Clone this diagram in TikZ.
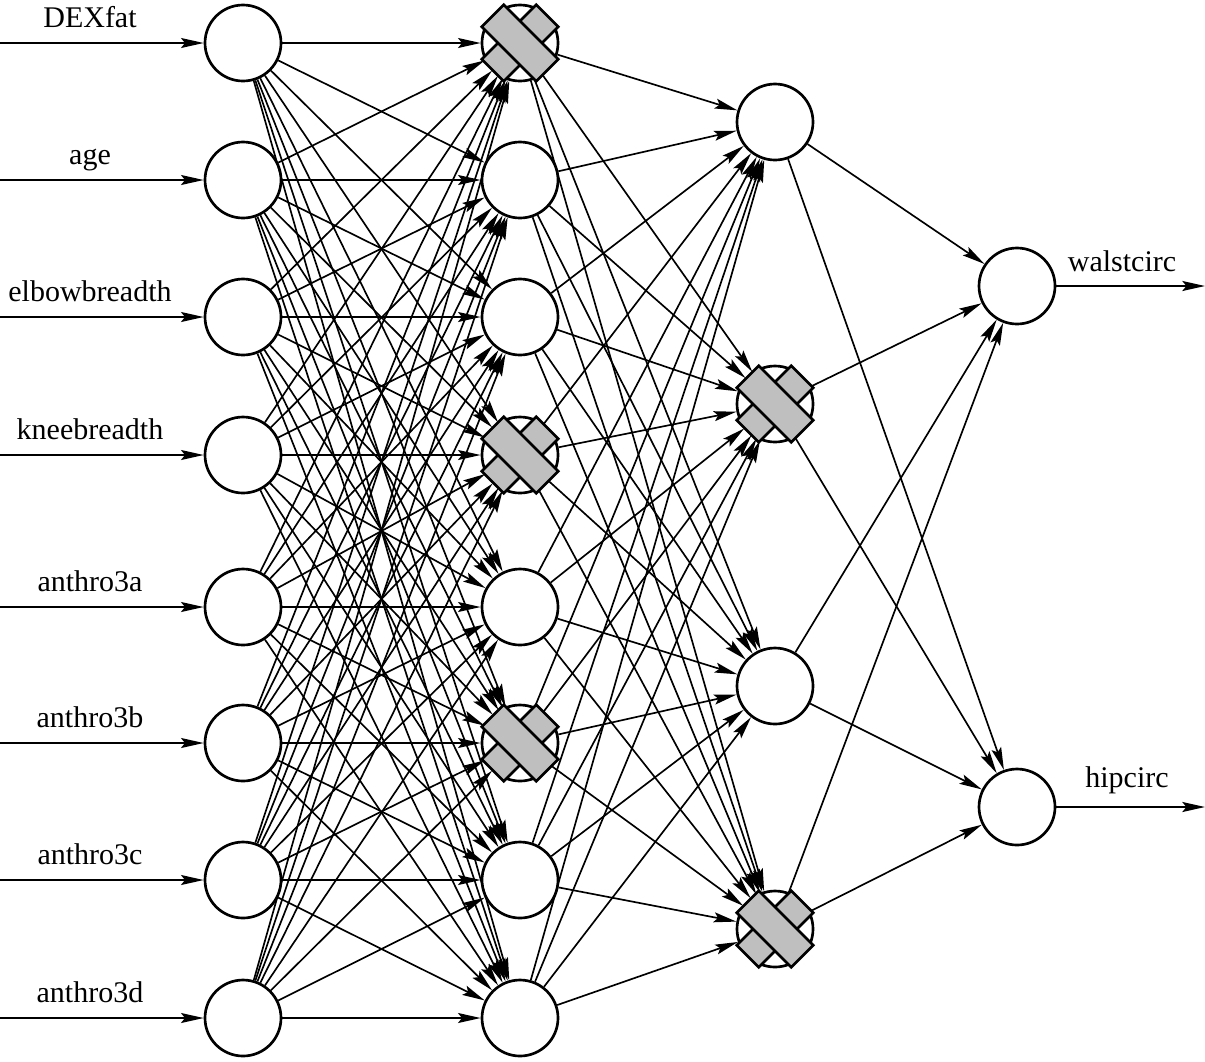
\documentclass[tikz,border=0pt]{standalone}
\usepackage{fontspec}
\setmainfont{Liberation Serif}
\usetikzlibrary{arrows.meta}
\begin{document}
\begin{tikzpicture}[x=0.75pt,y=-0.75pt,
  neuron/.style={circle,draw,line width=2pt,minimum size=57pt,inner sep=0pt,fill=white},
  conn/.style={line width=1.25pt,-{Stealth[length=17pt,width=7.5pt,inset=3pt]}},
  lbl/.style={font=\fontsize{22.5}{26}\selectfont,inner sep=0pt},
  bar/.style={fill=black!25,draw=black,line width=2pt}]
\useasboundingbox (0,0) rectangle (1205,1061);
\fill[white] (0,0) rectangle (1205,1061);
% input and first hidden layer
\foreach \n/\y/\t in {1/43/DEXfat,2/180/age,3/317/elbowbreadth,4/455/kneebreadth,5/607/anthro3a,6/743/anthro3b,7/880/anthro3c,8/1018/anthro3d}{
  \node[neuron] (i\n) at (243,\y) {};
  \node[neuron] (h\n) at (520,\y) {};
  \coordinate (s\n) at (0,\y);
  \node[lbl,anchor=base] (l\n) at (90,{\y-16}) {\t};
}
% second hidden layer
\foreach \n/\y in {1/122,2/404,3/686,4/929}{
  \node[neuron] (g\n) at (775,\y) {};
}
% outputs
\node[neuron] (o1) at (1017,286) {};
\node[neuron] (o2) at (1017,807) {};
\coordinate (e1) at (1205,286);
\coordinate (e2) at (1205,807);
\node[lbl,anchor=base] (ol1) at (1122,{286-15}) {walstcirc};
\node[lbl,anchor=base] (ol2) at (1127,{807-20}) {hipcirc};
% connections
\foreach \a in {1,...,8}{
  \draw[conn] (s\a) -- (i\a);
  \foreach \b in {1,...,8}{
    \draw[conn] (i\a) -- (h\b);
  }
  \foreach \b in {1,...,4}{
    \draw[conn] (h\a) -- (g\b);
  }
}
\foreach \a in {1,...,4}{
  \foreach \b in {1,2}{
    \draw[conn] (g\a) -- (o\b);
  }
}
\draw[conn] (o1) -- (e1);
\draw[conn] (o2) -- (e2);
% dropout crosses
\foreach \d in {h1,h4,h6,g2,g4}{
  \begin{scope}[shift={(\d.center)},rotate=45]
    \filldraw[bar] (-38.5,-15.5) rectangle (38.5,15.5);
  \end{scope}
  \begin{scope}[shift={(\d.center)},rotate=-45]
    \filldraw[bar] (-38.5,-15.5) rectangle (38.5,15.5);
  \end{scope}
}
\end{tikzpicture}
\end{document}
